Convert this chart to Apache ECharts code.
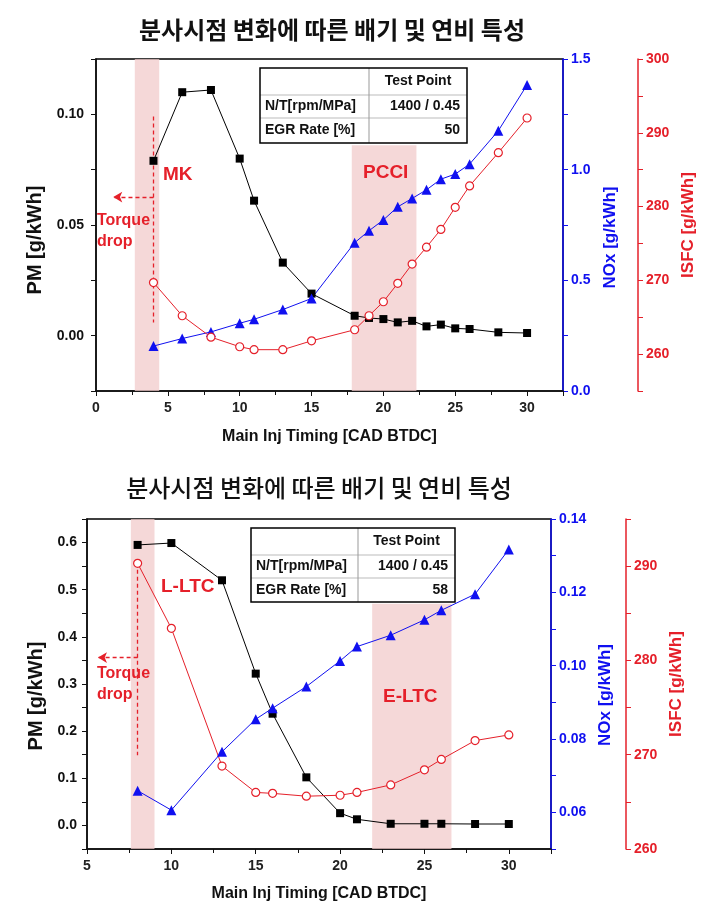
<!DOCTYPE html>
<html><head><meta charset="utf-8">
<script src="https://cdn.jsdelivr.net/npm/echarts@6/dist/echarts.min.js"></script>
<style>html,body{margin:0;padding:0;background:#fff}#c{width:721px;height:911px}</style>
</head><body><div id="c"></div>
<script>
// ---------- data ----------
const titleText = '분사시점 변화에 따른 배기 및 연비 특성';
const xName = 'Main Inj Timing [CAD BTDC]';
const pmName = 'PM [g/kWh]', noxName = 'NOx [g/kWh]', isfcName = 'ISFC [g/kWh]';

const topX    = [4,6,8,10,11,13,15,18,19,20,21,22,23,24,25,26,28,30];
const topPM   = [0.079,0.110,0.111,0.080,0.061,0.033,0.019,0.009,0.008,0.0075,0.006,0.0067,0.0042,0.005,0.0033,0.003,0.0015,0.0012];
const topNOx  = [0.203,0.237,0.267,0.306,0.324,0.368,0.418,0.670,0.724,0.773,0.832,0.870,0.909,0.957,0.980,1.025,1.176,1.383];
const topISFC = [269.7,265.2,262.3,261.0,260.6,260.6,261.8,263.3,265.2,267.1,269.6,272.2,274.5,276.9,279.9,282.8,287.3,292.0];
const topTable = [['', 'Test Point'], ['N/T[rpm/MPa]', '1400 / 0.45'], ['EGR Rate [%]', '50']];
const topBands = [{name:'MK', x0:2.7, x1:4.4, yTop:null}, {name:'PCCI', x0:17.8, x1:22.3, yTop:0.086}];

const botX    = [8,10,13,15,16,18,20,21,23,25,26,28,30];
const botPM   = [0.595,0.599,0.520,0.322,0.237,0.102,0.026,0.013,0.0035,0.0035,0.0035,0.003,0.003];
const botNOx  = [0.0659,0.0606,0.0765,0.0854,0.0884,0.0943,0.1013,0.1052,0.1083,0.1125,0.1151,0.1195,0.1317];
const botISFC = [290.3,283.4,268.8,266.0,265.9,265.6,265.7,266.0,266.8,268.4,269.5,271.5,272.1];
const botTable = [['', 'Test Point'], ['N/T[rpm/MPa]', '1400 / 0.45'], ['EGR Rate [%]', '58']];
const botBands = [{name:'L-LTC', x0:7.6, x1:9.0, yTop:null}, {name:'E-LTC', x0:21.9, x1:26.6, yTop:0.47}];

// ---------- styles ----------
const BLK = '#111', BLUE = '#1010f0', RED = '#e5202a', BAND = 'rgba(241,203,203,0.75)';
const FONT = 'Liberation Sans, Arial, sans-serif';
const pair = (xs, ys) => xs.map((x, i) => [x, ys[i]]);
const stepFmt = (step, dec) => v => { const k = v / step; return Math.abs(k - Math.round(k)) < 1e-6 ? v.toFixed(dec) : ''; };

function xAxisCfg(grid, min, gap) {
  return { type:'value', gridIndex:grid, min:min, max:32.5, interval:5,
    name:xName, nameLocation:'middle', nameGap:gap,
    nameTextStyle:{fontFamily:FONT, fontWeight:'bold', fontSize:16, color:BLK},
    axisLine:{show:true, onZero:false, lineStyle:{color:BLK, width:1.5}},
    axisTick:{show:true, inside:false, length:5, lineStyle:{color:BLK}},
    minorTick:{show:true, splitNumber:2, length:4, lineStyle:{color:BLK}},
    splitLine:{show:false}, minorSplitLine:{show:false},
    axisLabel:{fontFamily:FONT, fontWeight:'bold', fontSize:14, color:'#222', margin:10,
      formatter: v => (Math.abs(v/5 - Math.round(v/5)) < 1e-6 ? String(v) : '')}
  };
}
function yAxisCfg(o) {
  return { type:'value', gridIndex:o.grid, min:o.min, max:o.max, interval:o.interval,
    position:o.pos, offset:o.offset || 0,
    name:o.name, nameLocation:'middle', nameGap:o.gap, nameRotate:90,
    nameTextStyle:{fontFamily:FONT, fontWeight:'bold', fontSize:o.nfs, color:o.color, padding:o.pad || 0},
    axisLine:{show:true, onZero:false, lineStyle:{color:o.color, width:1.5}},
    axisTick:{show:true, inside:false, length:5, lineStyle:{color:o.color}},
    splitLine:{show:false},
    axisLabel:{fontFamily:FONT, fontWeight:'bold', fontSize:14, color:o.color, margin:o.margin, formatter:o.fmt}
  };
}
function lineSeries(name, x, y, yIdx, kind) {
  const s = { type:'line', name:name, xAxisIndex:x.xi, yAxisIndex:yIdx, data:pair(x.data, y), z:5,
    lineStyle:{width:1}, animation:false };
  if (kind === 'pm') Object.assign(s, {symbol:'rect', symbolSize:8, itemStyle:{color:'#000'}, lineStyle:{width:1, color:'#000'}});
  if (kind === 'nox') Object.assign(s, {symbol:'triangle', symbolSize:10, itemStyle:{color:BLUE}, lineStyle:{width:1, color:BLUE}});
  if (kind === 'isfc') Object.assign(s, {symbol:'circle', symbolSize:8, showAllSymbol:true,
    itemStyle:{color:'#fff', borderColor:RED, borderWidth:1.2}, lineStyle:{width:1, color:RED}});
  return s;
}
function bandSeries(xi, yi, bands, yMin) {
  return { type:'line', xAxisIndex:xi, yAxisIndex:yi, data:[], z:1, silent:true, animation:false,
    markArea:{silent:true, itemStyle:{color:BAND},
      data: bands.map(b => b.yTop == null ? [{xAxis:b.x0}, {xAxis:b.x1}] : [{coord:[b.x0, b.yTop]}, {coord:[b.x1, yMin]}])}
  };
}
function annotSeries(xi, yi, vx, vy0, vy1, ay, ax1) {
  return { type:'line', xAxisIndex:xi, yAxisIndex:yi, data:[], z:6, silent:true, animation:false,
    itemStyle:{color:RED},
    markLine:{silent:true, symbol:['none','none'], label:{show:false},
      itemStyle:{color:RED},
      lineStyle:{color:RED, type:[4,3], width:1.3, opacity:1},
      data:[
        [{coord:[vx, vy0], lineStyle:{color:RED}}, {coord:[vx, vy1]}],
        [{coord:[vx, ay], symbol:'none', lineStyle:{color:RED}}, {coord:[ax1, ay], symbol:'arrow', symbolSize:[8,9]}]
      ]}
  };
}
function tableGraphic(x0, x1, xs, y0, rows, rowsData) {
  const els = [];
  els.push({type:'rect', shape:{x:x0, y:y0, width:x1-x0, height:rows[2]-y0}, style:{fill:'#fff', stroke:'none'}, z:10});
  els.push({type:'line', shape:{x1:x0, y1:rows[0], x2:x1, y2:rows[0]}, style:{stroke:'#bbb', lineWidth:1}, z:11});
  els.push({type:'line', shape:{x1:x0, y1:rows[1], x2:x1, y2:rows[1]}, style:{stroke:'#bbb', lineWidth:1}, z:11});
  els.push({type:'line', shape:{x1:xs, y1:y0, x2:xs, y2:rows[2]}, style:{stroke:'#999', lineWidth:1}, z:11});
  els.push({type:'rect', shape:{x:x0, y:y0, width:x1-x0, height:rows[2]-y0}, style:{fill:'none', stroke:'#000', lineWidth:1.5}, z:12});
  const ys = [(y0+rows[0])/2, (rows[0]+rows[1])/2, (rows[1]+rows[2])/2];
  const ts = {fontFamily:FONT, fontWeight:'bold', fontSize:14, fill:'#111', textVerticalAlign:'middle'};
  rowsData.forEach((r, i) => {
    if (r[0]) els.push({type:'text', x:x0+5, y:ys[i], style:Object.assign({}, ts, {text:r[0], textAlign:'left'}), z:13});
    if (i === 0) els.push({type:'text', x:(xs+x1)/2, y:ys[i], style:Object.assign({}, ts, {text:r[1], textAlign:'center'}), z:13});
    else els.push({type:'text', x:x1-7, y:ys[i], style:Object.assign({}, ts, {text:r[1], textAlign:'right'}), z:13});
  });
  return els;
}
function redText(text, x, y, size) {
  return {type:'text', x:x, y:y, z:9, style:{text:text, fontFamily:FONT, fontWeight:'bold', fontSize:size, fill:RED,
    textAlign:'left', textVerticalAlign:'middle', lineHeight:21}};
}

const option = {
  animation:false,
  backgroundColor:'#fff',
  grid:[
    {left:96, top:59, width:467, height:332, show:true, borderColor:'#000', borderWidth:1.5, backgroundColor:'transparent'},
    {left:87, top:519, width:464, height:330, show:true, borderColor:'#000', borderWidth:1.5, backgroundColor:'transparent'}
  ],
  xAxis:[ xAxisCfg(0, 0, 38), xAxisCfg(1, 5, 37) ],
  yAxis:[
    yAxisCfg({grid:0, min:-0.025, max:0.125, interval:0.025, pos:'left', name:pmName, gap:50, nfs:20, color:BLK, margin:12, fmt:stepFmt(0.05,2), pad:[0,30,0,0]}),
    yAxisCfg({grid:0, min:0, max:1.5, interval:0.25, pos:'right', name:noxName, gap:34, nfs:17, color:BLUE, margin:8, fmt:stepFmt(0.5,1), pad:[0,25,0,0]}),
    yAxisCfg({grid:0, min:255, max:300, interval:5, pos:'right', offset:75, name:isfcName, gap:31, nfs:17, color:RED, margin:8, fmt:stepFmt(10,0)}),
    yAxisCfg({grid:1, min:-0.05, max:0.65, interval:0.05, pos:'left', name:pmName, gap:40, nfs:20, color:BLK, margin:10, fmt:stepFmt(0.1,1), pad:[0,24,0,0]}),
    yAxisCfg({grid:1, min:0.05, max:0.14, interval:0.01, pos:'right', name:noxName, gap:40, nfs:17, color:BLUE, margin:8, fmt:stepFmt(0.02,2), pad:[0,22,0,0]}),
    yAxisCfg({grid:1, min:260, max:295, interval:5, pos:'right', offset:75, name:isfcName, gap:28, nfs:17, color:RED, margin:8, fmt:stepFmt(10,0)})
  ],
  series:[
    bandSeries(0, 0, topBands, -0.025),
    annotSeries(0, 0, 4, 0.099, 0.006, 0.0626, 1.2),
    lineSeries('PM', {xi:0, data:topX}, topPM, 0, 'pm'),
    lineSeries('NOx', {xi:0, data:topX}, topNOx, 1, 'nox'),
    lineSeries('ISFC', {xi:0, data:topX}, topISFC, 2, 'isfc'),
    bandSeries(1, 3, botBands, -0.05),
    annotSeries(1, 3, 8, 0.557, 0.149, 0.356, 5.65),
    lineSeries('PM', {xi:1, data:botX}, botPM, 3, 'pm'),
    lineSeries('NOx', {xi:1, data:botX}, botNOx, 4, 'nox'),
    lineSeries('ISFC', {xi:1, data:botX}, botISFC, 5, 'isfc')
  ],
  graphic:[
    {type:'text', x:332, y:30, style:{text:titleText, fontFamily:'Noto Sans CJK KR', fontWeight:'bold', fontSize:24, fill:'#111', textAlign:'center', textVerticalAlign:'middle'}},
    {type:'text', x:319, y:488, style:{text:titleText, fontFamily:'Noto Sans CJK KR', fontWeight:500, fontSize:24, fill:'#111', textAlign:'center', textVerticalAlign:'middle'}},
    ...tableGraphic(260, 467, 369, 68, [95, 118, 143], topTable),
    ...tableGraphic(251, 455, 358, 528, [555, 578, 602], botTable),
    redText(topBands[0].name, 163, 175, 19),
    redText(topBands[1].name, 363, 173, 19),
    redText('Torque\ndrop', 97, 231, 16),
    redText(botBands[0].name, 161, 587, 19),
    redText(botBands[1].name, 383, 697, 19),
    redText('Torque\ndrop', 97, 684, 16)
  ]
};
const chart = echarts.init(document.getElementById('c'), null, {renderer:'canvas'});
chart.setOption(option);
</script></body></html>
